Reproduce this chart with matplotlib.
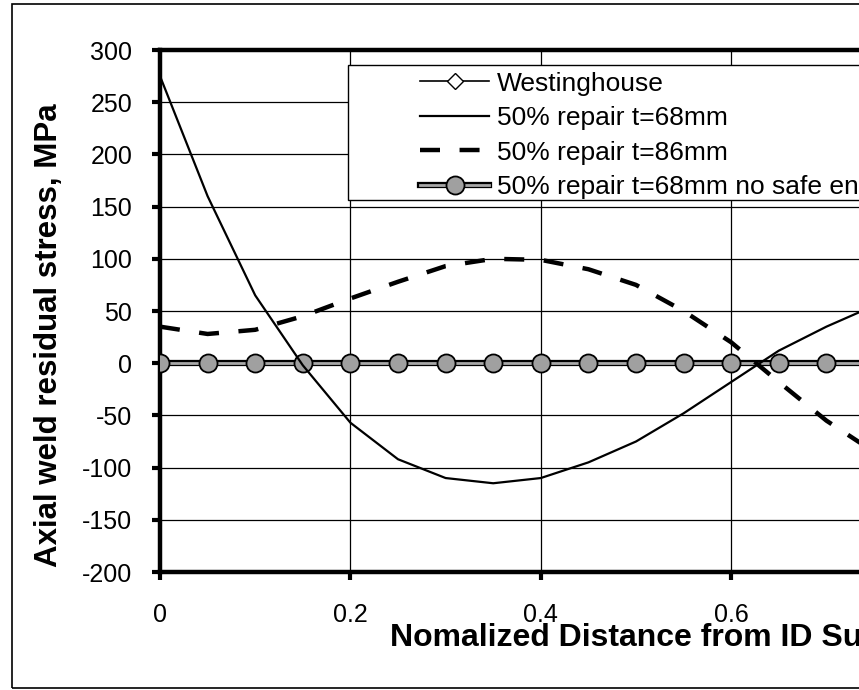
import matplotlib
matplotlib.use('Agg')
import matplotlib.pyplot as plt
from matplotlib.patches import Rectangle

plt.rcParams['font.family'] = ['Liberation Sans', 'DejaVu Sans']
plt.rcParams['axes.unicode_minus'] = False

# ── Du lieu (doc tu hinh) ──────────────────────────
x_pos = [0.0, 0.05, 0.1, 0.15, 0.2, 0.25, 0.3, 0.35, 0.4, 0.45,
         0.5, 0.55, 0.6, 0.65, 0.7, 0.75]
repair_68 = [275, 160, 65, -2, -57, -92, -110, -115, -110, -95,
             -75, -48, -18, 12, 35, 55]
repair_86 = [35, 28, 32, 45, 62, 78, 93, 100, 99, 90,
             75, 50, 20, -18, -55, -85]
no_safe_end = [0] * len(x_pos)
westinghouse_x = []
westinghouse_y = []

labels = ['Westinghouse', '50% repair t=68mm', '50% repair t=86mm',
          '50% repair t=68mm no safe end']
x_ticks = [0, 0.2, 0.4, 0.6, 0.8, 1.0]
x_ticklabels = ['0', '0.2', '0.4', '0.6', '0.8', '1']
y_ticks = list(range(-200, 301, 50))

W, H = 859, 690
fig = plt.figure(figsize=(W / 100, H / 100), dpi=100)

# khung ngoai (bi cat ben phai)
fig.patches.append(Rectangle((12 / W, 2 / H), 1.2, (H - 6) / H,
                             transform=fig.transFigure, fill=False,
                             edgecolor='black', linewidth=1.2))

# truc ve rong hon hinh -> phan ben phai bi cat nhu ban goc
ax = fig.add_axes([160 / W, (H - 572) / H, 952 / W, 522 / H])
ax.set_xlim(0, 1)
ax.set_ylim(-200, 300)

ax.grid(True, color='black', linewidth=0.9)
ax.set_axisbelow(True)

h_w, = ax.plot(westinghouse_x, westinghouse_y, color='black', linewidth=1.2,
               marker='D', markersize=8, markerfacecolor='white',
               markeredgecolor='black')
h_68, = ax.plot(x_pos, repair_68, color='black', linewidth=1.6, zorder=3)
h_86, = ax.plot(x_pos, repair_86, color='black', linewidth=3.2,
                dashes=(4.5, 4.4), zorder=3)
h_ns_edge, = ax.plot(x_pos, no_safe_end, color='black', linewidth=4.5, zorder=2.5)
h_ns, = ax.plot(x_pos, no_safe_end, color='#a8a8a8', linewidth=2.0,
                marker='o', markersize=13, markerfacecolor='#a0a0a0',
                markeredgecolor='black', markeredgewidth=1.3, zorder=2.6)

# spines kieu Excel
for s in ['left', 'bottom', 'top']:
    ax.spines[s].set_linewidth(3.2)
ax.spines['right'].set_visible(False)

ax.set_xticks(x_ticks)
ax.set_xticklabels(x_ticklabels)
ax.set_yticks(y_ticks)
ax.tick_params(axis='both', labelsize=18, width=3, length=6, direction='out')
ax.tick_params(axis='x', pad=16)
ax.tick_params(axis='y', pad=14)

ax.set_xlabel('Nomalized Distance from ID Surface', fontsize=23,
              fontweight='bold', va='center', ha='left')
ax.xaxis.set_label_coords(0.2416, -0.126)
ax.set_ylabel('Axial weld residual stress, MPa', fontsize=22.5,
              fontweight='bold', va='center')
ax.yaxis.set_label_coords(-0.117, 0.454)

# khung legend
ax.add_patch(Rectangle((0.1975, 0.713), 1.0, 0.258, transform=ax.transAxes,
                       facecolor='white', edgecolor='black', linewidth=1.0,
                       zorder=4))
leg = ax.legend([h_w, h_68, h_86, (h_ns_edge, h_ns)], labels,
                loc='upper left', bbox_to_anchor=(0.2625, 0.979),
                frameon=False, fontsize=19, handlelength=2.6,
                handletextpad=0.3, labelspacing=0.4, borderaxespad=0)
leg.set_zorder(5)

fig.savefig('out.png', dpi=100)
